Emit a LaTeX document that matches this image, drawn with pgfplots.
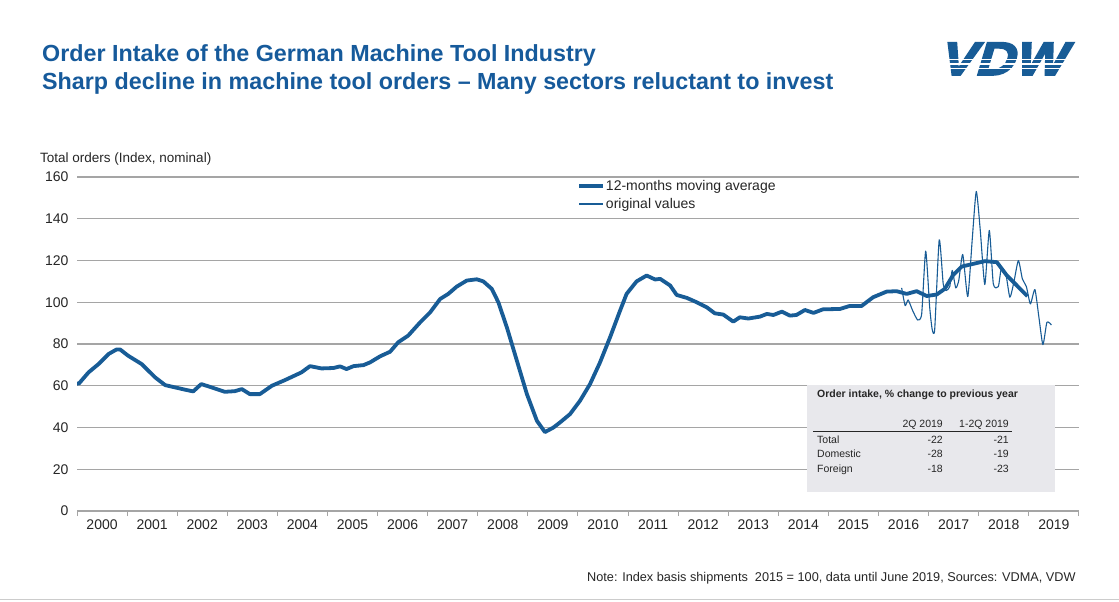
\documentclass[border=0pt]{standalone}
\usepackage{fontspec}
\setmainfont{Liberation Sans}
\newfontfamily\logofont[FakeSlant=0.3,FakeStretch=1.15,FakeBold=3.5]{Liberation Sans Bold}
\usepackage{pgfplots}
\pgfplotsset{compat=1.18}
\definecolor{vdwblue}{RGB}{24,92,150}
\definecolor{titleblue}{RGB}{22,90,155}
\definecolor{gridgray}{RGB}{165,165,165}
\definecolor{boxgray}{RGB}{232,232,236}
\definecolor{txt}{RGB}{38,38,38}

\pgfplotstableread{
x y
2000.00 61
2000.04 61.1
2000.23 66.4
2000.43 70.4
2000.63 75.2
2000.79 77.4
2000.86 77.4
2001.02 74.4
2001.29 70.4
2001.56 64
2001.76 60.3
2001.96 59.2
2002.16 58.1
2002.32 57.3
2002.48 60.8
2002.69 59.2
2002.95 57.1
2003.15 57.4
2003.29 58.4
2003.45 56
2003.65 56
2003.89 60
2004.15 62.7
2004.48 66.4
2004.65 69.4
2004.88 68.3
2005.12 68.5
2005.25 69.3
2005.38 68
2005.52 69.4
2005.72 69.9
2005.85 71.2
2006.05 74.1
2006.25 76.3
2006.41 80.8
2006.61 84
2006.85 90.4
2007.05 95.2
2007.25 101.6
2007.41 104
2007.58 107.5
2007.78 110.4
2007.98 111
2008.11 110
2008.28 106.4
2008.41 100
2008.58 88
2008.78 72
2008.98 56
2009.18 43.2
2009.34 37.8
2009.51 40
2009.64 42.4
2009.84 46.4
2010.04 52.8
2010.24 60.8
2010.44 71.2
2010.64 83.2
2010.84 96
2010.97 104
2011.17 110
2011.37 112.8
2011.54 110.9
2011.64 111.2
2011.84 108
2011.97 103.5
2012.17 102.1
2012.37 100
2012.57 97.6
2012.73 94.7
2012.90 94.1
2013.10 90.7
2013.23 92.8
2013.40 92.2
2013.63 93.1
2013.77 94.4
2013.90 93.9
2014.07 95.5
2014.23 93.6
2014.36 93.9
2014.53 96.3
2014.70 94.9
2014.89 96.6
2015.23 96.8
2015.42 98.2
2015.66 98.2
2015.89 102.4
2016.16 105.1
2016.36 105.3
2016.56 104
2016.76 105.3
2016.96 103
2017.16 103.7
2017.32 106.4
2017.49 113.1
2017.66 117.1
2017.89 118.4
2018.12 119.7
2018.36 119.2
2018.56 112.8
2018.76 108
2018.97 102.9
}\movavg

\pgfplotstableread{
x y
2016.46 106.9
2016.53 98.4
2016.59 101.1
2016.68 96
2016.78 91.5
2016.86 94.4
2016.94 124.5
2017.02 97.6
2017.07 87
2017.12 87
2017.21 129.9
2017.29 108.8
2017.35 105.6
2017.42 107.5
2017.47 115.2
2017.54 106.9
2017.60 110.4
2017.68 122.9
2017.78 102.7
2017.87 130.4
2017.95 153.1
2018.03 134.4
2018.12 108.5
2018.21 134.4
2018.29 108.8
2018.39 107.5
2018.45 116.3
2018.54 113.6
2018.62 102.4
2018.70 109.6
2018.79 120
2018.87 111.2
2018.95 107.5
2019.03 99.2
2019.12 106.1
2019.20 92.8
2019.28 79.7
2019.36 90.4
2019.45 89.1
}\original

\begin{document}
\begin{tikzpicture}
\path[use as bounding box] (0pt,0pt) rectangle (1119pt,-602pt);
\fill[white] (0pt,0pt) rectangle (1119pt,-602pt);

% titles
\node[anchor=base west, inner sep=0pt, text=titleblue, font=\fontsize{23.3}{28}\selectfont\bfseries] at (42pt,-61.5pt) {Order Intake of the German Machine Tool Industry};
\node[anchor=base west, inner sep=0pt, text=titleblue, font=\fontsize{23.3}{28}\selectfont\bfseries] at (42pt,-89.5pt) {Sharp decline in machine tool orders -- Many sectors reluctant to invest};

% logo
\node[anchor=base west, inner sep=0pt, text=vdwblue, font=\fontsize{47}{47}\logofont] at (938pt,-75pt) {VDW};
\foreach \yy in {59.5,64,68.5} {\draw[white, line width=1.7pt] (930pt,-\yy pt) -- (1090pt,-\yy pt);}

% y label
\node[anchor=base west, inner sep=0pt, text=txt, font=\fontsize{13.5}{15}\selectfont] at (40pt,-162pt) {Total orders (Index, nominal)};

\begin{axis}[
  at={(77pt,-511pt)}, anchor=south west,
  scale only axis, width=1002pt, height=334pt,
  xmin=2000, xmax=2020, ymin=0, ymax=160,
  ytick={0,20,...,160},
  xtick={2000,...,2020},
  x tick label as interval,
  /pgf/number format/.cd, 1000 sep={}, assume math mode=true, /pgfplots/.cd,
  axis x line*=bottom,
  axis y line*=left,
  y axis line style={draw=none},
  ytick style={draw=none},
  x axis line style={gridgray, line width=1.1pt},
  xtick style={gridgray, line width=1pt},
  tick align=outside, major tick length=5pt,
  ymajorgrids, grid style={gridgray, line width=1.1pt},
  ticklabel style={text=txt, font=\fontsize{14}{16}\selectfont},
  legend style={at={(0.499,0.993)}, anchor=north west, draw=none, fill=none,
    font=\fontsize{14}{16}\selectfont, row sep=4pt, inner sep=0pt,
    nodes={inner sep=1pt, text=txt}},
  legend cell align=left,
  legend image code/.code={\draw[#1] (0pt,0pt) -- (24pt,0pt);},
]
\addplot[vdwblue, line width=3.8pt, line join=round] table[x=x,y=y] {\movavg};
\addlegendentry{12-months moving average}
\addplot[vdwblue, line width=1.1pt, smooth, tension=0.35, line join=round] table[x=x,y=y] {\original};
\addlegendentry{original values}
\end{axis}

% table box
\fill[boxgray] (807pt,-385pt) rectangle (1055pt,-492pt);
\begin{scope}[every node/.style={inner sep=0pt, text=txt, font=\fontsize{10.5}{12}\selectfont}]
\node[anchor=base west, font=\fontsize{10.5}{12}\selectfont\bfseries] at (817pt,-397.5pt) {Order intake, \% change to previous year};
\node[anchor=base east] at (943pt,-427pt) {2Q 2019};
\node[anchor=base east] at (1009pt,-427pt) {1-2Q 2019};
\draw[txt, line width=0.8pt] (813pt,-431pt) -- (1012pt,-431pt);
\node[anchor=base west] at (817pt,-443pt) {Total};
\node[anchor=base east] at (943pt,-443pt) {-22};
\node[anchor=base east] at (1009pt,-443pt) {-21};
\node[anchor=base west] at (817pt,-457.5pt) {Domestic};
\node[anchor=base east] at (943pt,-457.5pt) {-28};
\node[anchor=base east] at (1009pt,-457.5pt) {-19};
\node[anchor=base west] at (817pt,-472.5pt) {Foreign};
\node[anchor=base east] at (943pt,-472.5pt) {-18};
\node[anchor=base east] at (1009pt,-472.5pt) {-23};
\end{scope}

% footnote
\node[anchor=base west, inner sep=0pt, text=txt, font=\fontsize{12.7}{15}\selectfont] at (587pt,-581pt) {Note: Index basis shipments\ \ 2015 = 100, data until June 2019, Sources: VDMA, VDW};

\draw[gray!40, line width=1pt] (0pt,-599.5pt) -- (1119pt,-599.5pt);
\end{tikzpicture}
\end{document}
